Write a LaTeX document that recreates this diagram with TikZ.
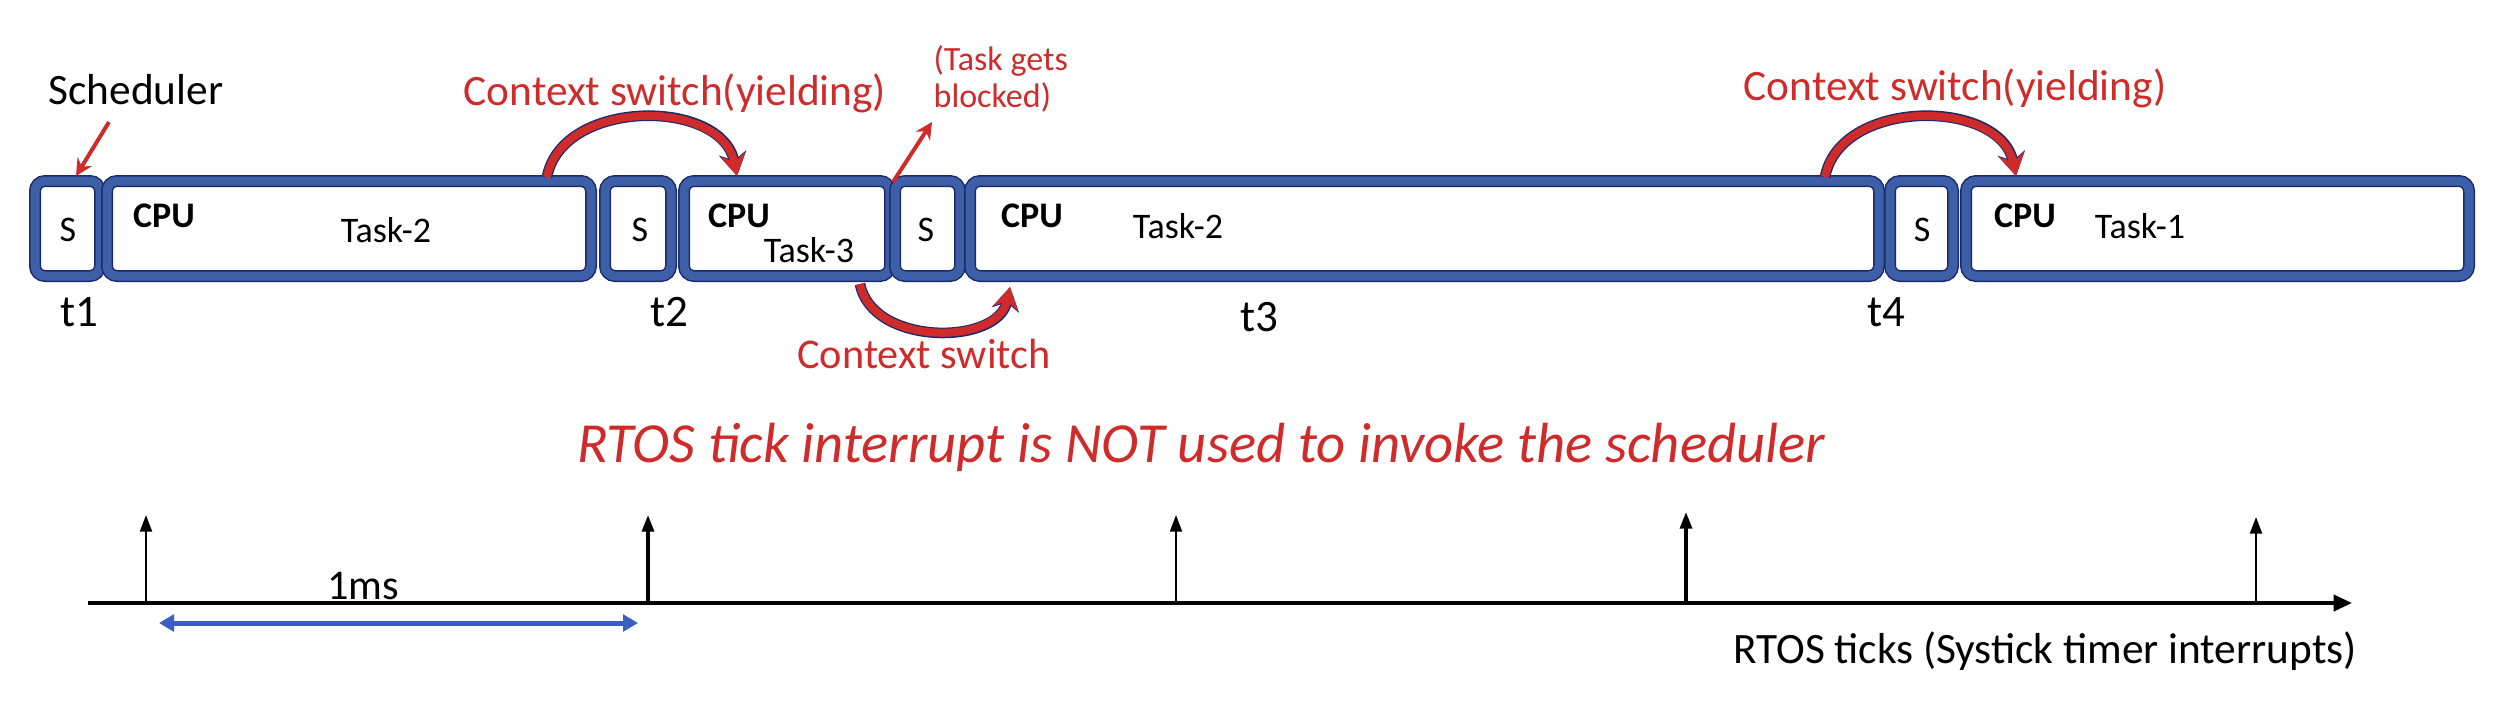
\documentclass[tikz,border=0pt]{standalone}
\usepackage{fontspec}
\setmainfont{Carlito}
\usetikzlibrary{arrows.meta,fit,calc}
\definecolor{navy}{HTML}{1B2A6B}
\definecolor{band}{HTML}{3D5FA8}
\definecolor{rred}{HTML}{CF2B2B}
\definecolor{bblue}{HTML}{3A5FC0}
\begin{document}
\begin{tikzpicture}[x=0.3pt,y=-0.3pt,
  box/.style={draw=navy, line width=0.45pt, double=band, double distance=2.7pt, rounded corners=3pt, inner sep=0pt},
  boxtxt/.style={font=\fontsize{10.8}{12}\selectfont, text=black, inner sep=0pt, anchor=base},
  cputxt/.style={boxtxt, font=\fontsize{10.8}{12}\selectfont\bfseries},
  lbl/.style={font=\fontsize{13}{15}\selectfont, text=black, inner sep=0pt, anchor=base},
  redlbl/.style={lbl, text=rred},
  tlbl/.style={font=\fontsize{13.5}{16}\selectfont, text=black, inner sep=0pt, anchor=base},
  redarrow/.style={draw=rred, line width=1.2pt, -{Stealth[length=5pt,width=5pt]}},
  arcarrow/.style={draw=rred, line width=2.4pt, -{Stealth[length=6.5pt,width=7.5pt]},
    preaction={draw=navy, line width=3.2pt, -{Stealth[length=7pt,width=8.3pt]}}},
  tickarrow/.style={draw=black, line width=0.7pt, -{Triangle[length=5pt,width=3.6pt]}},
  tickbold/.style={tickarrow, line width=1pt},
  axisline/.style={draw=black, line width=1.1pt, -{Triangle[length=5.5pt,width=4.8pt]}},
  spanarrow/.style={draw=bblue, line width=1.5pt, {Triangle[length=4.5pt,width=5pt]}-{Triangle[length=4.5pt,width=5pt]}}
]
\useasboundingbox (0,0) rectangle (2494,720);

% task boxes
\node[box, fit={(35,181) (100,276)}] (b1) {};
\node[box, fit={(107,181) (591,276)}] (b2) {};
\node[box, fit={(605,181) (671,276)}] (b3) {};
\node[box, fit={(684,181) (890,276)}] (b4) {};
\node[box, fit={(895,181) (960,276)}] (b5) {};
\node[box, fit={(970,181) (1879,276)}] (b6) {};
\node[box, fit={(1890,181) (1953,276)}] (b7) {};
\node[box, fit={(1966,181) (2469,276)}] (b8) {};

% box texts
\node[boxtxt] (s1) at (68,241) {S};
\node[cputxt] (c2) at (164,227) {CPU};
\node[boxtxt] (k2) at (386,242) {Task-2};
\node[boxtxt] (s3) at (640,241) {S};
\node[cputxt] (c4) at (739,227) {CPU};
\node[boxtxt] (k4) at (809,262) {Task-3};
\node[boxtxt] (s5) at (926,241) {S};
\node[cputxt] (c6) at (1032,227) {CPU};
\node[boxtxt] (k6) at (1178,238) {Task-2};
\node[boxtxt] (s7) at (1922,241) {S};
\node[cputxt] (c8) at (2025,227) {CPU};
\node[boxtxt] (k8) at (2140,238) {Task-1};

% time labels
\node[tlbl] (t1) at (79,326) {t1};
\node[tlbl] (t2) at (669,326) {t2};
\node[tlbl] (t3) at (1259,331) {t3};
\node[tlbl] (t4) at (1886,326) {t4};

% annotations
\node[lbl] (sched) at (136,104) {Scheduler};
\node[redlbl] (cy1) at (675,105) {Context switch(yielding)};
\node[redlbl] (cy2) at (1955,100) {Context switch(yielding)};
\node[redlbl, font=\fontsize{12.7}{14}\selectfont] (cs) at (924,368) {Context switch};
\node[font=\fontsize{10.2}{12}\selectfont, text=rred, inner sep=0pt, anchor=base west] (tg1) at (933,70) {(Task gets};
\node[font=\fontsize{10.2}{12}\selectfont, text=rred, inner sep=0pt, anchor=base west] (tg2) at (933,107) {blocked)};

\coordinate (schS) at (109,122);
\coordinate (schE) at (76,176);
\draw[redarrow] (schS) -- (schE);
\coordinate (blkS) at (893,182);
\coordinate (blkE) at (932,122);
\draw[redarrow] (blkS) -- (blkE);

\coordinate (a1s) at (547,177);
\coordinate (a1c) at (562,98);
\coordinate (a1d) at (722,98);
\coordinate (a1e) at (737,176);
\draw[arcarrow] (a1s) .. controls (a1c) and (a1d) .. (a1e);
\coordinate (a3s) at (1825,177);
\coordinate (a3c) at (1840,98);
\coordinate (a3d) at (2000,98);
\coordinate (a3e) at (2016,176);
\draw[arcarrow] (a3s) .. controls (a3c) and (a3d) .. (a3e);
\coordinate (a2s) at (860,284);
\coordinate (a2c) at (872,346);
\coordinate (a2d) at (998,346);
\coordinate (a2e) at (1010,287);
\draw[arcarrow] (a2s) .. controls (a2c) and (a2d) .. (a2e);

% note
\node[font=\fontsize{17}{20}\selectfont\itshape, text=rred, inner sep=0pt, anchor=base] (note) at (1201,462) {RTOS tick interrupt is NOT used to invoke the scheduler};

% timeline
\coordinate (ax0) at (88,603);
\coordinate (ax1) at (2352,603);
\draw[axisline] (ax0) -- (ax1);
\coordinate (p1) at (146,603);  \coordinate (q1) at (146,515);
\coordinate (p2) at (648,603);  \coordinate (q2) at (648,515);
\coordinate (p3) at (1176,603); \coordinate (q3) at (1176,515);
\coordinate (p4) at (1686,603); \coordinate (q4) at (1686,512);
\coordinate (p5) at (2256,603); \coordinate (q5) at (2256,517);
\draw[tickarrow] (p1) -- (q1);
\draw[tickbold] (p2) -- (q2);
\draw[tickarrow] (p3) -- (q3);
\draw[tickbold] (p4) -- (q4);
\draw[tickarrow] (p5) -- (q5);

\node[lbl, font=\fontsize{12.7}{15}\selectfont] (ms) at (363,599) {1ms};
\coordinate (m0) at (159,623);
\coordinate (m1) at (638,623);
\draw[spanarrow] (m0) -- (m1);
\node[lbl] (ticks) at (2045,663) {RTOS ticks (Systick timer interrupts)};
\end{tikzpicture}
\end{document}
